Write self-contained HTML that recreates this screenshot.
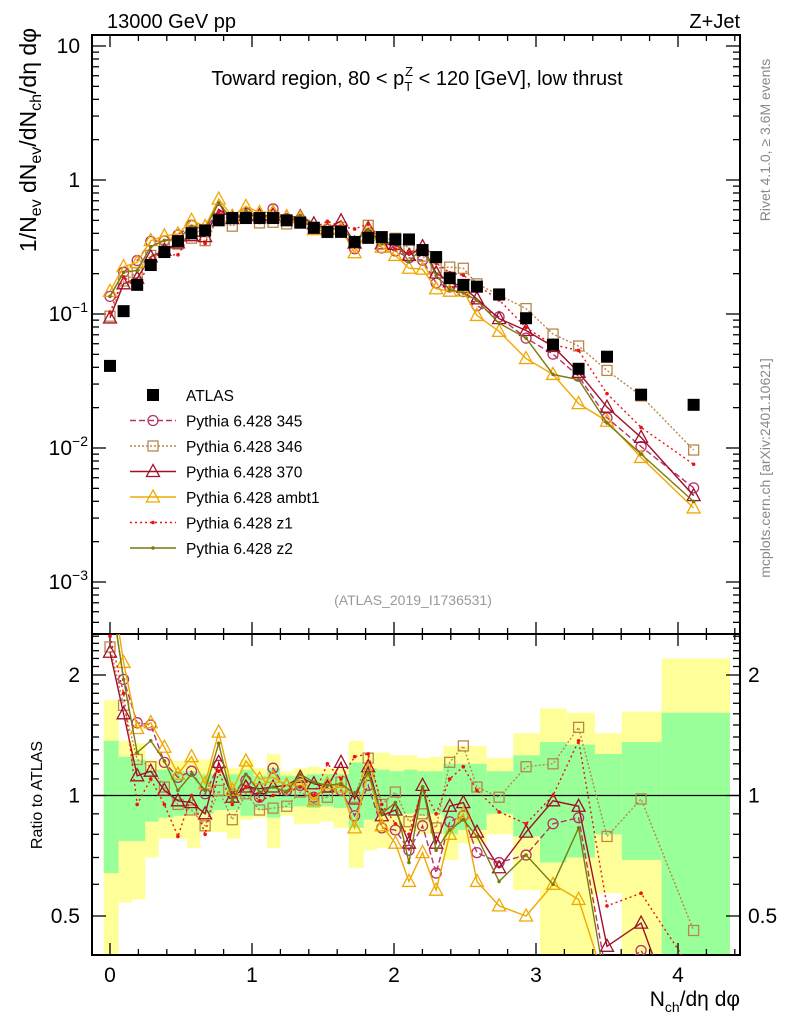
<!DOCTYPE html>
<html><head><meta charset="utf-8"><style>
html,body{margin:0;padding:0;background:#fff;overflow:hidden;width:786px;height:1024px;}
svg{display:block;font-family:"Liberation Sans",sans-serif;}
</style></head><body>
<svg id="chart" width="786" height="1024" viewBox="0 0 786 1024" xmlns="http://www.w3.org/2000/svg">
<defs>
<clipPath id="clipU"><rect x="92" y="35" width="648" height="599"/></clipPath>
<clipPath id="clipR"><rect x="92" y="634" width="648" height="321"/></clipPath>
</defs>
<g id="bands" clip-path="url(#clipR)"></g>
<g id="frames"></g>
<g id="series"></g>
<text x="107" y="28" font-size="20">13000 GeV pp</text>
<text x="740" y="28" font-size="20" text-anchor="end">Z+Jet</text>
<text x="417" y="85" font-size="20" text-anchor="middle">Toward region, 80 &lt; p<tspan font-size="13" dy="6">T</tspan><tspan font-size="13" dx="-7" dy="-15">Z</tspan><tspan dy="9"> &lt; 120 [GeV], low thrust</tspan></text>
<text x="413" y="605" font-size="14" fill="#999" text-anchor="middle">(ATLAS_2019_I1736531)</text>
<text transform="translate(770,140) rotate(-90)" font-size="14" fill="#888" text-anchor="middle">Rivet 4.1.0, ≥ 3.6M events</text>
<text transform="translate(770,468) rotate(-90)" font-size="14" fill="#888" text-anchor="middle">mcplots.cern.ch [arXiv:2401.10621]</text>
<text transform="translate(36,140) rotate(-90)" font-size="23" text-anchor="middle">1/N<tspan font-size="16" dy="5">ev</tspan><tspan dy="-5"> dN</tspan><tspan font-size="16" dy="5">ev</tspan><tspan dy="-5">/dN</tspan><tspan font-size="16" dy="5">ch</tspan><tspan dy="-5">/dη dφ</tspan></text>
<text transform="translate(42,795) rotate(-90)" font-size="16" text-anchor="middle">Ratio to ATLAS</text>
<text x="740" y="1006" font-size="21" text-anchor="end">N<tspan font-size="14" dy="6">ch</tspan><tspan dy="-6">/dη dφ</tspan></text>
<g id="legend"></g>
</svg>
<script>
const xs=[0,0.0957,0.1914,0.2871,0.3828,0.4785,0.5742,0.6699,0.7656,0.8613,0.957,1.0527,1.1484,1.2441,1.3398,1.4355,1.5312,1.6269,1.7226,1.8183,1.914,2.0097,2.1054,2.2011,2.2968,2.3925,2.4882,2.5839,2.74,2.93,3.12,3.30,3.50,3.74,4.11];
const binEdges=[-0.044,0.061,0.155,0.249,0.343,0.449,0.542,0.636,0.730,0.824,0.918,1.012,1.106,1.199,1.294,1.387,1.481,1.575,1.681,1.787,1.880,1.974,2.068,2.165,2.254,2.347,2.453,2.547,2.653,2.840,3.028,3.216,3.415,3.604,3.885,4.366];
const atlas=[0.041,0.105,0.165,0.232,0.29,0.35,0.4,0.42,0.5,0.52,0.52,0.52,0.52,0.5,0.48,0.44,0.41,0.41,0.345,0.37,0.375,0.36,0.36,0.3,0.266,0.185,0.165,0.16,0.14,0.093,0.059,0.039,0.048,0.025,0.021];
const r345=[3.3,1.95,1.52,1.5,1.21,1.11,1.15,1.01,1.19,1.01,1.09,0.99,1.17,1.03,1.06,0.99,1.05,1.03,0.89,1.06,0.83,0.82,0.73,0.84,0.64,0.86,0.89,0.72,0.68,0.71,0.85,0.88,0.35,0.41,0.24];
const r346=[2.35,1.68,1.23,1.18,1.05,0.95,0.92,0.84,1.03,0.87,1.01,0.92,0.93,0.94,1.02,0.98,0.99,1.08,0.99,1.24,0.95,1.02,0.86,0.9,0.83,1.21,1.33,1.05,0.99,1.18,1.20,1.48,0.79,0.98,0.46];
const r370=[2.28,1.6,1.12,1.15,1.03,0.97,0.96,0.9,1.21,0.99,1.05,1.04,1.05,1.06,1.11,1.07,1.05,1.21,0.98,1.18,0.89,0.92,0.76,1.06,0.76,0.94,0.96,0.81,0.66,0.81,0.97,0.94,0.42,0.48,0.21];
const rAmbt1=[3.6,2.15,1.47,1.52,1.32,1.13,1.25,1.07,1.44,1.03,1.22,1.1,1.11,1.06,1.09,0.97,1.07,1.05,0.83,1.15,0.84,0.76,0.61,0.72,0.58,0.8,0.9,0.61,0.53,0.5,0.6,0.55,0.33,0.34,0.17];
const rZ1=[2.5,1.8,0.95,1.1,0.95,0.79,1.0,0.8,1.15,0.95,1.05,0.97,1.0,1.02,1.05,1.0,1.2,1.1,1.25,1.27,0.95,0.85,0.8,1.05,0.9,1.1,1.18,1.03,0.91,0.85,1.0,1.37,0.53,0.57,0.36];
const rZ2=[3.3,1.95,1.28,1.37,1.22,1.03,1.13,1.03,1.35,0.97,1.13,1.02,1.05,1.02,1.13,1.08,1.06,1.07,1.01,1.14,0.9,0.96,0.68,1.05,0.73,0.82,0.87,0.79,0.61,0.71,0.6,0.83,0.32,0.36,0.19];
const yellowUp=[1.73,1.37,1.35,1.23,1.23,1.22,1.23,1.23,1.17,1.17,1.23,1.17,1.27,1.15,1.17,1.18,1.17,1.17,1.37,1.28,1.28,1.26,1.26,1.24,1.25,1.33,1.33,1.33,1.24,1.43,1.65,1.61,1.43,1.62,2.2];
const greenUp=[1.37,1.25,1.23,1.16,1.16,1.15,1.15,1.13,1.13,1.13,1.16,1.12,1.17,1.12,1.12,1.13,1.13,1.13,1.21,1.17,1.16,1.15,1.16,1.15,1.15,1.2,1.2,1.2,1.15,1.26,1.36,1.34,1.27,1.36,1.61];
const greenLo=[0.64,0.77,0.77,0.86,0.88,0.89,0.90,0.90,0.92,0.92,0.89,0.92,0.88,0.93,0.94,0.93,0.94,0.93,0.83,0.87,0.89,0.89,0.90,0.89,0.90,0.80,0.82,0.82,0.90,0.79,0.68,0.70,0.80,0.69,0.3];
const yellowLo=[0.3,0.54,0.55,0.70,0.78,0.78,0.74,0.81,0.81,0.78,0.87,0.88,0.74,0.89,0.85,0.85,0.86,0.83,0.66,0.73,0.74,0.80,0.81,0.80,0.80,0.69,0.76,0.76,0.80,0.58,0.3,0.3,0.57,0.3,0.3];
const xTicks=[0,1,2,3,4];
const NS="http://www.w3.org/2000/svg";
const X=v=>110+142*v;
const YU=v=>180-134*Math.log10(v);
const YR=r=>795.5-120.5*Math.log2(r);
function mk(tag,attrs,parent){const e=document.createElementNS(NS,tag);for(const k in attrs)e.setAttribute(k,attrs[k]);parent.appendChild(e);return e;}
const bands=document.getElementById('bands'),frames=document.getElementById('frames'),series=document.getElementById('series'),legend=document.getElementById('legend');
for(let i=0;i<yellowUp.length;i++){
 const x0=X(binEdges[i]),x1=X(binEdges[i+1]);
 const y=mk('rect',{x:x0,y:YR(yellowUp[i]),width:x1-x0,height:YR(yellowLo[i])-YR(yellowUp[i]),fill:'#ffff99'},bands);
 
 
 const g=mk('rect',{x:x0,y:YR(greenUp[i]),width:x1-x0,height:YR(greenLo[i])-YR(greenUp[i]),fill:'#99ff99'},bands);
 
 
}
const ul=mk('line',{x1:92,x2:740,y1:YR(1),y2:YR(1),stroke:'#000','stroke-width':1.3},frames);


const fu=mk('rect',{x:92,y:35,width:648,height:599,fill:'none',stroke:'#000','stroke-width':2},frames);


const fr=mk('rect',{x:92,y:634,width:648,height:321,fill:'none',stroke:'#000','stroke-width':2},frames);


function tick(x1,y1,x2,y2){const t=mk('line',{x1,y1,x2,y2,stroke:'#000','stroke-width':1.3},frames);}
for(let v=0;v<=4.41;v+=0.2){const vv=Math.round(v*10)/10;const maj=Math.abs(vv-Math.round(vv))<1e-6;const L=maj?12:6;const px=X(vv);
 tick(px,35,px,35+L);tick(px,634,px,634-L);tick(px,634,px,634+L);tick(px,955,px,955-L);}
xTicks.forEach(v=>{const t=mk('text',{x:X(v),y:982,'font-size':21,'text-anchor':'middle'},frames);t.textContent=v;});
for(let d=-4;d<=1;d++){for(let m=1;m<10;m++){const v=m*Math.pow(10,d);const py=YU(v);if(py<35||py>634)continue;const L=m===1?14:7;tick(92,py,92+L,py);tick(740,py,740-L,py);}}
const uLabels=[[10,'10',''],[1,'1',''],[0.1,'10','−1'],[0.01,'10','−2'],[0.001,'10','−3']];
uLabels.forEach(([v,b,e])=>{const t=mk('text',{x:e?88:80,y:YU(v)+7,'font-size':21,'text-anchor':'end'},frames);t.textContent=b;
 if(e){const s=mk('tspan',{'font-size':14,dy:-9},t);s.textContent=e;}});
for(let r=0.4;r<=2.55;r+=0.1){const rr=Math.round(r*10)/10;const py=YR(rr);if(py<634||py>955)continue;const maj=(rr===0.5||rr===1||rr===2);const L=maj?14:7;tick(92,py,92+L,py);tick(740,py,740-L,py);}
[[2,'2'],[1,'1'],[0.5,'0.5']].forEach(([v,s])=>{const t=mk('text',{x:80,y:YR(v)+7,'font-size':21,'text-anchor':'end'},frames);t.textContent=s;
 const t2=mk('text',{x:748,y:YR(v)+7,'font-size':21},frames);t2.textContent=s;});
const defs=[
 {name:'pythia-345',label:'Pythia 6.428 345',r:r345,color:'#b8326a',dash:'6,3',m:'circle'},
 {name:'pythia-346',label:'Pythia 6.428 346',r:r346,color:'#b8874a',dash:'2,2',m:'square'},
 {name:'pythia-370',label:'Pythia 6.428 370',r:r370,color:'#a0102a',dash:'',m:'tri'},
 {name:'pythia-ambt1',label:'Pythia 6.428 ambt1',r:rAmbt1,color:'#f0a800',dash:'',m:'tri'},
 {name:'pythia-z1',label:'Pythia 6.428 z1',r:rZ1,color:'#ee1111',dash:'2,3',m:'dot'},
 {name:'pythia-z2',label:'Pythia 6.428 z2',r:rZ2,color:'#7a7a10',dash:'',m:'dot'}];
function marker(g,m,x,y,c){
 if(m==='circle')return mk('circle',{cx:x,cy:y,r:5,fill:'none',stroke:c,'stroke-width':1.3},g);
 if(m==='square')return mk('rect',{x:x-5,y:y-5,width:10,height:10,fill:'none',stroke:c,'stroke-width':1.3},g);
 if(m==='tri')return mk('polygon',{points:`${x},${y-7} ${x-6.5},${y+5} ${x+6.5},${y+5}`,fill:'none',stroke:c,'stroke-width':1.3},g);
 if(m==='dot')return mk('circle',{cx:x,cy:y,r:1.8,fill:c},g);
 if(m==='fsq')return mk('rect',{x:x-6,y:y-6,width:12,height:12,fill:'#000'},g);
}
defs.forEach(d=>{
 const gu=mk('g',{'clip-path':'url(#clipU)'},series);
 
 
 const gr=mk('g',{'clip-path':'url(#clipR)'},series);
 
 
 const pu=xs.map((x,i)=>[X(x),YU(atlas[i]*d.r[i])]);
 const pr=xs.map((x,i)=>[X(x),YR(d.r[i])]);
 const lu=mk('polyline',{points:pu.map(p=>p.join(',')).join(' '),fill:'none',stroke:d.color,'stroke-width':1.4,'stroke-dasharray':d.dash},gu);
 
 
 const lr=mk('polyline',{points:pr.map(p=>p.join(',')).join(' '),fill:'none',stroke:d.color,'stroke-width':1.4,'stroke-dasharray':d.dash},gr);
 
 
 pu.forEach(p=>{const e=marker(gu,d.m,p[0],p[1],d.color);});
 pr.forEach(p=>{const e=marker(gr,d.m,p[0],p[1],d.color);});
});
const ga=mk('g',{'clip-path':'url(#clipU)'},series);


xs.forEach((x,i)=>{const e=marker(ga,'fsq',X(x),YU(atlas[i]),'#000');});
const leg=[{label:'ATLAS',m:'fsq',color:'#000',dash:null}].concat(defs);
leg.forEach((d,i)=>{const y=395+i*25.5;
 const g=mk('g',{},legend);
 
 
 if(d.dash!==null){mk('line',{x1:130,x2:176,y1:y,y2:y,stroke:d.color,'stroke-width':1.4,'stroke-dasharray':d.dash},g);}
 marker(g,d.m,153,y,d.color);
 const t=mk('text',{x:186,y:y+6,'font-size':15.5},g);t.textContent=d.label;});
</script>
</body></html>
